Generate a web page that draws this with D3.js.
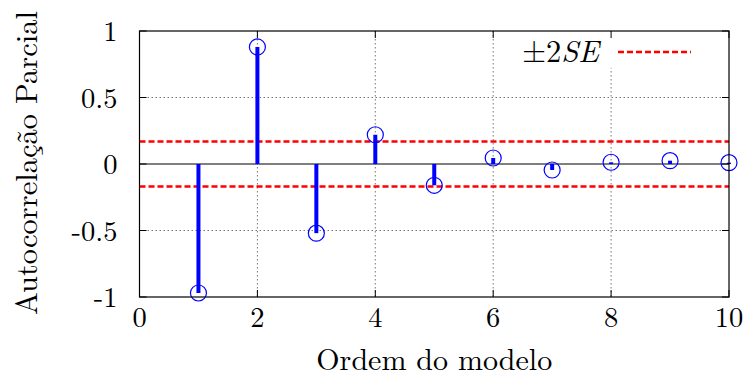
<!DOCTYPE html>
<html>
<head>
<meta charset="utf-8">
<script src="https://cdn.jsdelivr.net/npm/d3@7"></script>
</head>
<body style="margin:0; background:#fff">
<div id="chart"></div>
<script>
// chart values
const lags = [1, 2, 3, 4, 5, 6, 7, 8, 9, 10];
const pacf = [-0.97, 0.88, -0.52, 0.22, -0.16, 0.045, -0.045, 0.013, 0.025, 0.01];
const seLimit = 0.17;
const xTicks = [0, 2, 4, 6, 8, 10];
const yTicks = [-1, -0.5, 0, 0.5, 1];

const font = "'Latin Modern Roman', 'Liberation Serif', serif";
const fs = "30.5px";
const tickFs = "28.5px";

const width = 746, height = 378;
const margin = { top: 31, right: 17, bottom: 81, left: 139.5 };
const innerW = width - margin.left - margin.right;
const innerH = height - margin.top - margin.bottom;

const svg = d3.select("#chart").append("svg")
  .attr("width", width)
  .attr("height", height);

const g = svg.append("g")
  .attr("transform", `translate(${margin.left},${margin.top})`);

const x = d3.scaleLinear().domain([0, 10]).range([0, innerW]);
const y = d3.scaleLinear().domain([-1, 1]).range([innerH, 0]);

// dotted grid lines
g.selectAll(".gx")
  .data(xTicks.slice(1, -1))
  .join("line")
  .attr("x1", d => x(d)).attr("x2", d => x(d))
  .attr("y1", 0).attr("y2", innerH)
  .attr("stroke", "#777").attr("stroke-width", 1)
  .attr("stroke-dasharray", "1.5,2.5");

g.selectAll(".gy")
  .data([-0.5, 0.5])
  .join("line")
  .attr("x1", 0).attr("x2", innerW)
  .attr("y1", d => y(d)).attr("y2", d => y(d))
  .attr("stroke", "#777").attr("stroke-width", 1)
  .attr("stroke-dasharray", "1.5,2.5");

// zero line
g.append("line")
  .attr("x1", 0).attr("x2", innerW)
  .attr("y1", y(0)).attr("y2", y(0))
  .attr("stroke", "#000").attr("stroke-width", 1.2);

// +-2SE limits
g.selectAll(".se")
  .data([seLimit, -seLimit])
  .join("line")
  .attr("x1", 0).attr("x2", innerW)
  .attr("y1", d => y(d)).attr("y2", d => y(d))
  .attr("stroke", "#ff0000").attr("stroke-width", 2.5)
  .attr("stroke-dasharray", "6,3");

// stems
g.selectAll(".stem")
  .data(lags)
  .join("line")
  .attr("x1", d => x(d)).attr("x2", d => x(d))
  .attr("y1", y(0)).attr("y2", (d, i) => y(pacf[i]))
  .attr("stroke", "#0000ff").attr("stroke-width", 4);

// markers
g.selectAll(".mark")
  .data(lags)
  .join("circle")
  .attr("cx", d => x(d))
  .attr("cy", (d, i) => y(pacf[i]))
  .attr("r", 8)
  .attr("fill", "none")
  .attr("stroke", "#0000ff").attr("stroke-width", 1.2);

// legend box
const lg = g.append("g").attr("transform", `translate(${innerW - 218},0)`);
lg.append("rect")
  .attr("x", 0).attr("y", 0.8)
  .attr("width", 217).attr("height", 36)
  .attr("fill", "#fff");
const lt = lg.append("text")
  .attr("x", 88).attr("y", 31)
  .attr("text-anchor", "end")
  .style("font-family", font)
  .style("font-size", fs);
lt.append("tspan").text("±2");
lt.append("tspan").style("font-style", "italic").text("SE");
lg.append("line")
  .attr("x1", 107).attr("x2", 180)
  .attr("y1", 21).attr("y2", 21)
  .attr("stroke", "#ff0000").attr("stroke-width", 2.5)
  .attr("stroke-dasharray", "6,3");

// frame
g.append("rect")
  .attr("width", innerW).attr("height", innerH)
  .attr("fill", "none")
  .attr("stroke", "#000").attr("stroke-width", 1.2);

// inner ticks
const tick = 7;
xTicks.forEach(t => {
  g.append("line").attr("x1", x(t)).attr("x2", x(t)).attr("y1", innerH).attr("y2", innerH - tick).attr("stroke", "#000");
  g.append("line").attr("x1", x(t)).attr("x2", x(t)).attr("y1", 0).attr("y2", tick).attr("stroke", "#000");
});
yTicks.forEach(t => {
  g.append("line").attr("x1", 0).attr("x2", tick).attr("y1", y(t)).attr("y2", y(t)).attr("stroke", "#000");
  g.append("line").attr("x1", innerW).attr("x2", innerW - tick).attr("y1", y(t)).attr("y2", y(t)).attr("stroke", "#000");
});

// tick labels
g.selectAll(".xl")
  .data(xTicks)
  .join("text")
  .attr("x", d => x(d))
  .attr("y", innerH + 30)
  .attr("text-anchor", "middle")
  .style("font-family", font)
  .style("font-size", tickFs)
  .text(d => d);

g.selectAll(".yl")
  .data(yTicks)
  .join("text")
  .attr("x", -22)
  .attr("y", d => y(d) + 10)
  .attr("text-anchor", "end")
  .style("font-family", font)
  .style("font-size", tickFs)
  .text(d => d);

// axis titles
svg.append("text")
  .attr("x", margin.left + innerW / 2)
  .attr("y", 369.5)
  .attr("text-anchor", "middle")
  .style("font-family", font)
  .style("font-size", "30px")
  .text("Ordem do modelo");

svg.append("text")
  .attr("transform", `translate(37,${margin.top + innerH / 2 - 1}) rotate(-90)`)
  .attr("text-anchor", "middle")
  .style("font-family", font)
  .style("font-size", fs)
  .text("Autocorrelação Parcial");
</script>
</body>
</html>
